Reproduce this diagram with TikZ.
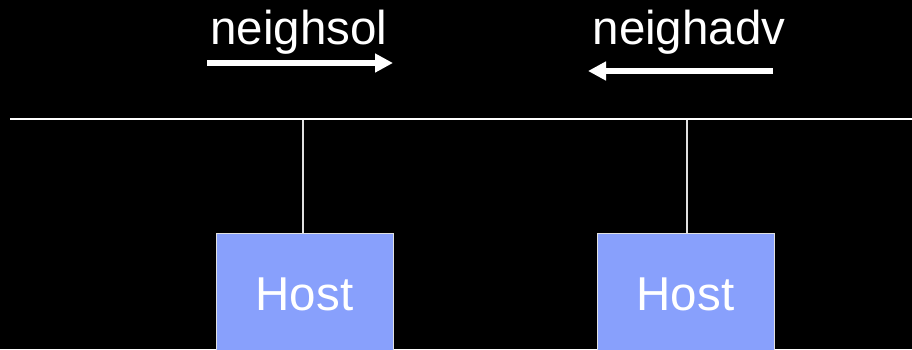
\documentclass[tikz,border=0pt]{standalone}
\usepackage{fontspec}
\setmainfont{Liberation Sans}
\usetikzlibrary{arrows.meta}
\definecolor{hostfill}{RGB}{136,160,252}
\definecolor{linegray}{RGB}{225,225,225}
\tikzset{
  hostbox/.style={draw=linegray, line width=1pt, fill=hostfill, text=white,
    minimum width=177pt, minimum height=122pt, inner sep=0pt,
    font=\fontsize{47.5}{52}\selectfont},
  lbl/.style={text=white, anchor=base, inner sep=0pt, font=\fontsize{47.5}{52}\selectfont},
  bigarrow/.style={white, line width=5.5pt, -{Triangle[length=18pt,width=18pt]}},
  wire/.style={linegray, line width=1.4pt},
  bus/.style={white, line width=2pt}
}
\begin{document}
\begin{tikzpicture}[x=1pt,y=-1pt]
\useasboundingbox (0,0) rectangle (912,349);
\fill[black] (0,0) rectangle (912,349);
% labels
\node[lbl] (sol) at (299,44) {neighsol};
\node[lbl] (adv) at (689,44) {neighadv};
% arrows
\coordinate (s1) at (207,63);
\coordinate (s2) at (393,63);
\coordinate (a1) at (773,71);
\coordinate (a2) at (588,71);
\draw[bigarrow] (s1) -- (s2);
\draw[bigarrow] (a1) -- (a2);
% bus
\coordinate (busL) at (10,119);
\coordinate (busR) at (912,119);
\coordinate (t1) at (303,119);
\coordinate (t2) at (687,119);
% hosts
\node[hostbox] (h1) at (304.5,294) {Host};
\node[hostbox] (h2) at (685.5,294) {Host};
\draw[wire] (t1) -- (t1 |- h1.north);
\draw[wire] (t2) -- (t2 |- h2.north);
\draw[bus] (busL) -- (busR);
\end{tikzpicture}
\end{document}
